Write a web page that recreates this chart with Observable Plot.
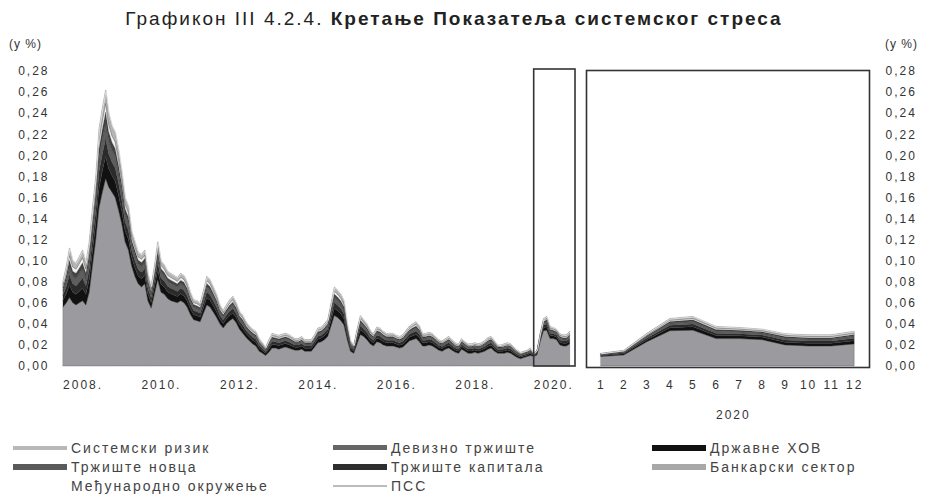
<!DOCTYPE html>
<html><head><meta charset="utf-8">
<script src="https://cdn.jsdelivr.net/npm/d3@7"></script>
<script src="https://cdn.jsdelivr.net/npm/@observablehq/plot@0.6"></script>
<style>
body{margin:0;background:#fff;}
#wrap{position:relative;width:930px;height:504px;font-family:"Liberation Sans",Arial,sans-serif;color:#333;overflow:hidden;background:#fff}
.abs{position:absolute;white-space:nowrap}
#wrap svg text{letter-spacing:2px}
#title{left:0;width:908px;top:8px;text-align:center;font-size:19px;letter-spacing:2px;color:#222}
#title b{font-weight:bold}
.unit{top:37px;font-size:12px;letter-spacing:1px}
#legend{position:absolute;left:13px;top:438px;display:grid;grid-auto-flow:column;grid-template-rows:repeat(3,19px);grid-template-columns:320px 319px 280px;font-size:14px;letter-spacing:2px;color:#444}
.li{display:flex;align-items:center}
.sw{width:54px;margin-right:4px;flex:none}
</style></head>
<body>
<div id="wrap">
  <div id="title" class="abs">Графикон III 4.2.4. <b>Кретање Показатеља системског стреса</b></div>
  <div class="abs unit" style="left:9px">(у %)</div>
  <div class="abs unit" style="left:885px">(у %)</div>
  <div id="left" class="abs" style="left:0;top:60px"></div>
  <div id="right" class="abs" style="left:580px;top:60px"></div>
  <div class="abs" style="left:716px;top:408px;font-size:12px;letter-spacing:2px">2020</div>
  <div id="legend"></div>
</div>
<script>
// ---- data (share of systemic stress, in %) monthly Jan 2008 – Dec 2020 ----
const startYear = 2008;
const bank = [
.056,.060,.065,.060,.058,.060,.062,.058,.070,.095,.120,.150,
.165,.178,.170,.165,.160,.148,.135,.118,.110,.095,.085,.078,
.075,.078,.062,.055,.068,.082,.070,.068,.064,.062,.061,.060,
.062,.060,.056,.049,.044,.043,.042,.050,.058,.056,.051,.046,
.040,.036,.040,.043,.045,.041,.035,.031,.027,.024,.021,.019,
.014,.012,.010,.013,.017,.017,.016,.017,.018,.017,.016,.015,
.015,.016,.014,.014,.014,.018,.022,.023,.025,.028,.038,.048,
.046,.043,.039,.025,.014,.012,.021,.030,.028,.025,.021,.019,
.023,.022,.020,.019,.019,.019,.018,.017,.018,.021,.024,.025,
.026,.023,.019,.019,.020,.019,.017,.015,.014,.016,.017,.015,
.013,.012,.016,.014,.012,.012,.013,.012,.013,.014,.016,.017,
.014,.012,.012,.012,.013,.012,.010,.008,.007,.008,.009,.010,
.009,.0105,.023,.0335,.034,.026,.026,.025,.020,.019,.019,.021];
const hov = [
.0063,.0088,.0118,.0100,.0100,.0110,.0120,.0100,.0120,.0138,.0150,.0188,
.0200,.0210,.0175,.0158,.0155,.0143,.0125,.0105,.0105,.0083,.0083,.0075,
.0078,.0080,.0065,.0053,.0068,.0090,.0075,.0070,.0065,.0065,.0063,.0060,
.0065,.0065,.0060,.0053,.0048,.0048,.0045,.0055,.0068,.0065,.0060,.0055,
.0045,.0043,.0045,.0050,.0053,.0048,.0043,.0043,.0038,.0035,.0035,.0035,
.0030,.0025,.0020,.0030,.0035,.0033,.0033,.0033,.0033,.0033,.0030,.0028,
.0028,.0030,.0028,.0028,.0028,.0030,.0035,.0035,.0038,.0040,.0055,.0068,
.0065,.0063,.0058,.0038,.0025,.0020,.0035,.0045,.0040,.0038,.0033,.0030,
.0035,.0035,.0033,.0030,.0030,.0030,.0028,.0028,.0030,.0033,.0035,.0038,
.0040,.0038,.0030,.0030,.0030,.0030,.0028,.0025,.0025,.0025,.0028,.0025,
.0023,.0023,.0025,.0023,.0023,.0023,.0023,.0023,.0023,.0025,.0028,.0028,
.0025,.0020,.0020,.0023,.0023,.0023,.0020,.0018,.0015,.0015,.0015,.0018,
.0008,.0011,.0020,.0029,.0033,.0029,.0026,.0025,.0026,.0026,.0026,.0030];
const kap = [
.0050,.0070,.0094,.0080,.0080,.0088,.0096,.0080,.0096,.0110,.0120,.0150,
.0160,.0168,.0140,.0126,.0124,.0114,.0100,.0084,.0084,.0066,.0066,.0060,
.0062,.0064,.0052,.0042,.0054,.0072,.0060,.0056,.0052,.0052,.0050,.0048,
.0052,.0052,.0048,.0042,.0038,.0038,.0036,.0044,.0054,.0052,.0048,.0044,
.0036,.0034,.0036,.0040,.0042,.0038,.0034,.0034,.0030,.0028,.0028,.0028,
.0024,.0020,.0016,.0024,.0028,.0026,.0026,.0026,.0026,.0026,.0024,.0022,
.0022,.0024,.0022,.0022,.0022,.0024,.0028,.0028,.0030,.0032,.0044,.0054,
.0052,.0050,.0046,.0030,.0020,.0016,.0028,.0036,.0032,.0030,.0026,.0024,
.0028,.0028,.0026,.0024,.0024,.0024,.0022,.0022,.0024,.0026,.0028,.0030,
.0032,.0030,.0024,.0024,.0024,.0024,.0022,.0020,.0020,.0020,.0022,.0020,
.0018,.0018,.0020,.0018,.0018,.0018,.0018,.0018,.0018,.0020,.0022,.0022,
.0020,.0016,.0016,.0018,.0018,.0018,.0016,.0014,.0012,.0012,.0012,.0014,
.0006,.0009,.0016,.0023,.0026,.0023,.0021,.0020,.0021,.0021,.0021,.0024];
const dev = [
.0045,.0063,.0085,.0072,.0072,.0079,.0086,.0072,.0086,.0099,.0108,.0135,
.0144,.0151,.0126,.0113,.0112,.0103,.0090,.0076,.0076,.0059,.0059,.0054,
.0056,.0058,.0047,.0038,.0049,.0065,.0054,.0050,.0047,.0047,.0045,.0043,
.0047,.0047,.0043,.0038,.0034,.0034,.0032,.0040,.0049,.0047,.0043,.0040,
.0032,.0031,.0032,.0036,.0038,.0034,.0031,.0031,.0027,.0025,.0025,.0025,
.0022,.0018,.0014,.0022,.0025,.0023,.0023,.0023,.0023,.0023,.0022,.0020,
.0020,.0022,.0020,.0020,.0020,.0022,.0025,.0025,.0027,.0029,.0040,.0049,
.0047,.0045,.0041,.0027,.0018,.0014,.0025,.0032,.0029,.0027,.0023,.0022,
.0025,.0025,.0023,.0022,.0022,.0022,.0020,.0020,.0022,.0023,.0025,.0027,
.0029,.0027,.0022,.0022,.0022,.0022,.0020,.0018,.0018,.0018,.0020,.0018,
.0016,.0016,.0018,.0016,.0016,.0016,.0016,.0016,.0016,.0018,.0020,.0020,
.0018,.0014,.0014,.0016,.0016,.0016,.0014,.0013,.0011,.0011,.0011,.0013,
.0005,.0008,.0014,.0021,.0023,.0021,.0019,.0018,.0019,.0019,.0019,.0022];
const nov = [
.0030,.0042,.0056,.0048,.0048,.0053,.0058,.0048,.0058,.0066,.0072,.0090,
.0096,.0101,.0084,.0076,.0074,.0068,.0060,.0050,.0050,.0040,.0040,.0036,
.0037,.0038,.0031,.0025,.0032,.0043,.0036,.0034,.0031,.0031,.0030,.0029,
.0031,.0031,.0029,.0025,.0023,.0023,.0022,.0026,.0032,.0031,.0029,.0026,
.0022,.0020,.0022,.0024,.0025,.0023,.0020,.0020,.0018,.0017,.0017,.0017,
.0014,.0012,.0010,.0014,.0017,.0016,.0016,.0016,.0016,.0016,.0014,.0013,
.0013,.0014,.0013,.0013,.0013,.0014,.0017,.0017,.0018,.0019,.0026,.0032,
.0031,.0030,.0028,.0018,.0012,.0010,.0017,.0022,.0019,.0018,.0016,.0014,
.0017,.0017,.0016,.0014,.0014,.0014,.0013,.0013,.0014,.0016,.0017,.0018,
.0019,.0018,.0014,.0014,.0014,.0014,.0013,.0012,.0012,.0012,.0013,.0012,
.0011,.0011,.0012,.0011,.0011,.0011,.0011,.0011,.0011,.0012,.0013,.0013,
.0012,.0010,.0010,.0011,.0011,.0011,.0010,.0008,.0007,.0007,.0007,.0008,
.0004,.0005,.0010,.0014,.0016,.0014,.0013,.0012,.0013,.0013,.0013,.0014];
const medj = [
.0025,.0035,.0047,.0040,.0040,.0044,.0048,.0040,.0048,.0055,.0060,.0075,
.0080,.0084,.0070,.0063,.0062,.0057,.0050,.0042,.0042,.0033,.0033,.0030,
.0031,.0032,.0026,.0021,.0027,.0036,.0030,.0028,.0026,.0026,.0025,.0024,
.0026,.0026,.0024,.0021,.0019,.0019,.0018,.0022,.0027,.0026,.0024,.0022,
.0018,.0017,.0018,.0020,.0021,.0019,.0017,.0017,.0015,.0014,.0014,.0014,
.0012,.0010,.0008,.0012,.0014,.0013,.0013,.0013,.0013,.0013,.0012,.0011,
.0011,.0012,.0011,.0011,.0011,.0012,.0014,.0014,.0015,.0016,.0022,.0027,
.0026,.0025,.0023,.0015,.0010,.0008,.0014,.0018,.0016,.0015,.0013,.0012,
.0014,.0014,.0013,.0012,.0012,.0012,.0011,.0011,.0012,.0013,.0014,.0015,
.0016,.0015,.0012,.0012,.0012,.0012,.0011,.0010,.0010,.0010,.0011,.0010,
.0009,.0009,.0010,.0009,.0009,.0009,.0009,.0009,.0009,.0010,.0011,.0011,
.0010,.0008,.0008,.0009,.0009,.0009,.0008,.0007,.0006,.0006,.0006,.0007,
.0003,.0005,.0008,.0012,.0013,.0012,.0011,.0010,.0011,.0011,.0011,.0012];
const sis = [
.0038,.0053,.0071,.0060,.0060,.0066,.0072,.0060,.0072,.0083,.0090,.0113,
.0120,.0126,.0105,.0095,.0093,.0086,.0075,.0063,.0063,.0050,.0050,.0045,
.0047,.0048,.0039,.0032,.0041,.0054,.0045,.0042,.0039,.0039,.0038,.0036,
.0039,.0039,.0036,.0032,.0029,.0029,.0027,.0033,.0041,.0039,.0036,.0033,
.0027,.0026,.0027,.0030,.0032,.0029,.0026,.0026,.0023,.0021,.0021,.0021,
.0018,.0015,.0012,.0018,.0021,.0020,.0020,.0020,.0020,.0020,.0018,.0017,
.0017,.0018,.0017,.0017,.0017,.0018,.0021,.0021,.0023,.0024,.0033,.0041,
.0039,.0038,.0035,.0023,.0015,.0012,.0021,.0027,.0024,.0023,.0020,.0018,
.0021,.0021,.0020,.0018,.0018,.0018,.0017,.0017,.0018,.0020,.0021,.0023,
.0024,.0023,.0018,.0018,.0018,.0018,.0017,.0015,.0015,.0015,.0017,.0015,
.0014,.0014,.0015,.0014,.0014,.0014,.0014,.0014,.0014,.0015,.0017,.0017,
.0015,.0012,.0012,.0014,.0014,.0014,.0012,.0011,.0009,.0009,.0009,.0011,
.0005,.0007,.0012,.0017,.0020,.0017,.0016,.0015,.0016,.0016,.0016,.0018];
const pss = [
.081,.095,.112,.100,.098,.104,.110,.098,.118,.150,.180,.225,
.245,.262,.240,.228,.222,.205,.185,.160,.152,.128,.118,.108,
.106,.110,.088,.076,.095,.118,.100,.096,.090,.088,.086,.084,
.088,.086,.080,.070,.063,.062,.060,.072,.085,.082,.075,.068,
.058,.053,.058,.063,.066,.060,.052,.048,.042,.038,.035,.033,
.026,.022,.018,.025,.031,.030,.029,.030,.031,.030,.028,.026,
.026,.028,.025,.025,.025,.030,.036,.037,.040,.044,.060,.075,
.072,.068,.062,.040,.024,.020,.035,.048,.044,.040,.034,.031,
.037,.036,.033,.031,.031,.031,.029,.028,.030,.034,.038,.040,
.042,.038,.031,.031,.032,.031,.028,.025,.024,.026,.028,.025,
.022,.021,.026,.023,.021,.021,.022,.021,.022,.024,.027,.028,
.024,.020,.020,.021,.022,.021,.018,.015,.013,.014,.015,.017,
.012,.015,.031,.045,.047,.0375,.0365,.035,.0305,.0295,.0295,.033];

const yTicks = [0,0.02,0.04,0.06,0.08,0.10,0.12,0.14,0.16,0.18,0.20,0.22,0.24,0.26,0.28];
const xTickYears = [2008,2010,2012,2014,2016,2018,2020];
const monthTicks = [1,2,3,4,5,6,7,8,9,10,11,12];
const zoomYear = 2020;

const stackNames = ["Банкарски сектор","Државне ХОВ","Тржиште капитала","Девизно тржиште","Тржиште новца","Међународно окружење","Системски ризик"];
const stackValues = [bank, hov, kap, dev, nov, medj, sis];
const stackColors = ["#9b9b9f","#111111","#2b2b2b","#5e5e5e","#444444","#f3f3f3","#b5b5b5"];

// ---- build tables ----
const n = bank.length;
const dates = d3.range(n).map(i => new Date(Date.UTC(startYear, i, 1)));
const long = [];
stackNames.forEach((name, k) => stackValues[k].forEach((v, i) => long.push({date: dates[i], month: dates[i].getUTCMonth() + 1, year: dates[i].getUTCFullYear(), series: name, value: v})));
const pssRows = pss.map((v, i) => ({date: dates[i], month: dates[i].getUTCMonth() + 1, year: dates[i].getUTCFullYear(), value: v}));
const longZoom = long.filter(d => d.year === zoomYear);
const pssZoom = pssRows.filter(d => d.year === zoomYear);

const fmt = d => d.toFixed(2).replace(".", ",");
const style = {fontFamily: '"Liberation Sans", Arial, sans-serif', fontSize: "12px", color: "#333", background: "transparent", overflow: "visible"};

const left = Plot.plot({
  width: 580, height: 340, marginLeft: 63, marginRight: 7, marginTop: 11, marginBottom: 34,
  style,
  x: {type: "utc", domain: [new Date(Date.UTC(startYear, 0, 1)), new Date(Date.UTC(zoomYear + 1, 0, 1))],
      ticks: xTickYears.map(y => new Date(Date.UTC(y, 6, 1))), tickFormat: d => d.getUTCFullYear() + ".",
      tickSize: 0, tickPadding: 14, label: null},
  y: {domain: [0, 0.28], ticks: yTicks, tickFormat: fmt, tickSize: 0, tickPadding: 14, label: null},
  color: {domain: stackNames, range: stackColors},
  marks: [
    Plot.areaY(long, {x: "date", y: "value", fill: "series", order: stackNames, stroke: "#333", strokeWidth: 0.4, strokeOpacity: 0.7}),
    Plot.lineY(pssRows, {x: "date", y: "value", stroke: "#dcdcdc", strokeWidth: 1}),
    Plot.rect([{x1: new Date(Date.UTC(zoomYear, 0, 1)), x2: new Date(Date.UTC(zoomYear + 1, 0, 1))}],
      {x1: "x1", x2: "x2", y1: 0, y2: 0.28, fill: "none", stroke: "#333", strokeWidth: 1.6, insetLeft: 0, insetRight: -2, insetTop: -2})
  ]
});
document.getElementById("left").appendChild(left);

const right = Plot.plot({
  width: 350, height: 340, marginLeft: 7, marginRight: 62, marginTop: 11, marginBottom: 34,
  style,
  x: {domain: [0.4, 12.6], ticks: monthTicks, tickFormat: d => String(d), tickSize: 0, tickPadding: 14, label: null},
  y: {axis: "right", domain: [0, 0.28], ticks: yTicks, tickFormat: fmt, tickSize: 0, tickPadding: 17, label: null},
  color: {domain: stackNames, range: stackColors},
  marks: [
    Plot.areaY(longZoom, {x: "month", y: "value", fill: "series", order: stackNames, stroke: "#333", strokeWidth: 0.4, strokeOpacity: 0.7}),
    Plot.lineY(pssZoom, {x: "month", y: "value", stroke: "#dcdcdc", strokeWidth: 1}),
    Plot.frame({stroke: "#333", strokeWidth: 1.6, inset: -1})
  ]
});
document.getElementById("right").appendChild(right);

// ---- legend ----
const legendItems = [
  {name: "Системски ризик", color: "#b8b8b8", h: 4},
  {name: "Тржиште новца", color: "#5a5a5a", h: 6},
  {name: "Међународно окружење", color: "#ffffff", h: 5},
  {name: "Девизно тржиште", color: "#666666", h: 5},
  {name: "Тржиште капитала", color: "#2e2e2e", h: 6},
  {name: "ПСС", color: "#bcbcbc", h: 2},
  {name: "Државне ХОВ", color: "#111111", h: 6},
  {name: "Банкарски сектор", color: "#a8a8a8", h: 6}
];
const lg = document.getElementById("legend");
legendItems.forEach(it => {
  const d = document.createElement("div");
  d.className = "li";
  d.innerHTML = `<span class="sw" style="height:${it.h}px;background:${it.color}"></span><span>${it.name}</span>`;
  lg.appendChild(d);
});
</script>
</body></html>
